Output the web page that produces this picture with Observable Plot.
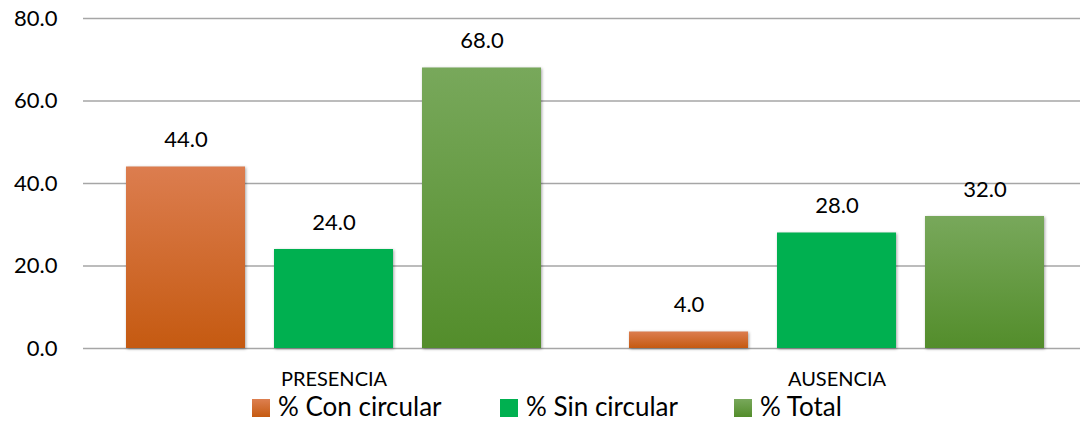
<!DOCTYPE html>
<html><head><meta charset="utf-8">
<script src="https://cdn.jsdelivr.net/npm/d3@7"></script>
<script src="https://cdn.jsdelivr.net/npm/@observablehq/plot@0.6"></script>
<style>
html,body{margin:0;padding:0;background:#fff;overflow:hidden}
#wrap{position:relative;width:1080px;height:421px;font-family:Lato,sans-serif}
#wrap svg{position:absolute;left:0;top:0}
#wrap svg g[aria-label="bar"] rect{filter:drop-shadow(1.5px 1.5px 1.5px rgba(0,0,0,0.35))}
.leg{position:absolute;top:394.5px;height:22px;font-size:26px;line-height:22px;color:#000;white-space:nowrap}
.leg .sw{position:absolute;left:0;top:4px;width:18px;height:18px}
.leg .tx{position:absolute;left:26px;top:0}
</style></head><body><div id="wrap"></div>
<script>
const categories = ["PRESENCIA", "AUSENCIA"];
const series = ["% Con circular", "% Sin circular", "% Total"];
const conCircular = [44.0, 4.0];
const sinCircular = [24.0, 28.0];
const totalValues = [68.0, 32.0];
const yTicks = [0, 20, 40, 60, 80];

const seriesFills = ["url(#gCon)", "#00b050", "url(#gTot)"];
const swatchCss = ["linear-gradient(#dd7f50,#c55a11)", "#00b050", "linear-gradient(#78a85b,#538d2b)"];
const legendLeft = [252, 500, 734];
const seriesValues = [conCircular, sinCircular, totalValues];
const rows = series.flatMap((s, i) => categories.map((c, j) => ({category: c, series: s, value: seriesValues[i][j]})));
const barStep = 148;

const marks = [Plot.ruleY(yTicks, {stroke: "#a6a6a6", strokeWidth: 1.3})];
series.forEach((s, i) => {
  const data = rows.filter(d => d.series === s);
  const dx = (i - 1) * barStep;
  marks.push(Plot.barY(data, {x: "category", y: "value", fill: seriesFills[i], dx}));
  marks.push(Plot.text(data, {x: "category", y: "value", text: d => d.value.toFixed(1), dx, dy: -27, fontSize: 22, fill: "#000"}));
});
marks.push(Plot.axisY({ticks: yTicks, tickFormat: d3.format(".1f"), tickSize: 0, tickPadding: 26, fontSize: 22, label: null}));
marks.push(Plot.axisX({tickSize: 0, tickPadding: 23, fontSize: 20, label: null}));

const svg = Plot.plot({
  width: 1080, height: 421,
  marginLeft: 83, marginRight: 0, marginTop: 18, marginBottom: 73,
  style: {fontFamily: "Lato, sans-serif", fontSize: "22px", color: "#000", background: "transparent"},
  x: {domain: categories, paddingInner: 0.763, paddingOuter: 0.3725, align: 0.51, label: null},
  y: {domain: [0, 80], label: null},
  marks
});

const defs = d3.select(svg).insert("defs", ":first-child");
function grad(id, top, bottom) {
  const g = defs.append("linearGradient").attr("id", id).attr("x1", 0).attr("y1", 0).attr("x2", 0).attr("y2", 1);
  g.append("stop").attr("offset", "0%").attr("stop-color", top);
  g.append("stop").attr("offset", "100%").attr("stop-color", bottom);
}
grad("gCon", "#dc7d4f", "#c55a11");
grad("gTot", "#78a85b", "#538d2b");

const wrap = document.getElementById("wrap");
wrap.appendChild(svg);
series.forEach((s, i) => {
  const item = document.createElement("div");
  item.className = "leg";
  item.style.left = legendLeft[i] + "px";
  const sw = document.createElement("div");
  sw.className = "sw";
  sw.style.background = swatchCss[i];
  const tx = document.createElement("span");
  tx.className = "tx";
  tx.textContent = s;
  item.appendChild(sw);
  item.appendChild(tx);
  wrap.appendChild(item);
});
</script></body></html>
